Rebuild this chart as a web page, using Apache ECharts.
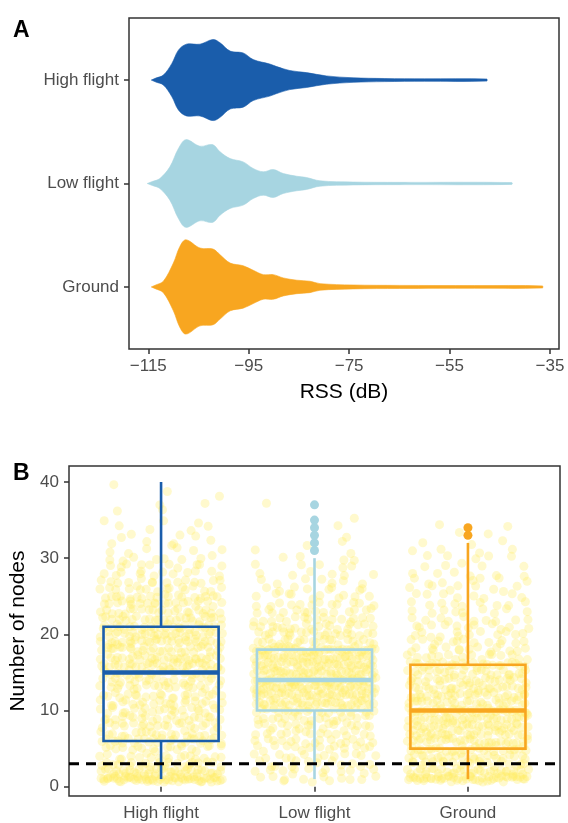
<!DOCTYPE html>
<html><head><meta charset="utf-8">
<script src="https://cdn.jsdelivr.net/npm/echarts@6/dist/echarts.min.js"></script>
<style>html,body{margin:0;padding:0;background:#fff}#c{width:568px;height:823px}</style>
</head><body><div id="c"></div>
<script>
// ---------- shared ----------
const groups = ['High flight', 'Low flight', 'Ground'];
const groupColors = ['#1A5DAB', '#A7D5E1', '#F8A620'];

// ---------- Panel A: violin outlines (RSS dB, half-width in category units) ----------
const rssHigh   = [-114.4,-113.5,-112.0,-110.3,-109.0,-107.4,-104.7,-102.1,-100.7,-98.7,-96.1,-94.1,-90.8,-89.4,-86.8,-83.5,-79.5,-74.2,-68.0,-60.0,-47.6];
const widthHigh = [0,0.019,0.048,0.161,0.289,0.347,0.347,0.392,0.360,0.280,0.262,0.198,0.155,0.130,0.092,0.072,0.040,0.022,0.015,0.012,0.010];
const rssLow    = [-115.2,-114.2,-112.7,-110.7,-109.0,-107.5,-104.7,-102.2,-100.7,-98.7,-96.1,-94.1,-92.1,-90.1,-88.1,-85.4,-83.5,-80.8,-74.2,-65.0,-42.6];
const widthLow  = [0,0.019,0.048,0.161,0.338,0.424,0.360,0.376,0.306,0.241,0.209,0.145,0.113,0.135,0.096,0.070,0.058,0.026,0.014,0.011,0.009];
const rssGround   = [-114.4,-113.5,-112.0,-110.0,-108.7,-107.5,-104.7,-102.1,-100.7,-98.7,-96.1,-94.1,-92.1,-90.1,-88.1,-85.4,-82.8,-80.8,-74.2,-65.0,-50.0,-36.5];
const widthGround = [0,0.019,0.055,0.231,0.392,0.456,0.376,0.366,0.311,0.231,0.205,0.161,0.119,0.119,0.087,0.065,0.055,0.032,0.019,0.015,0.013,0.010];
const rssTicks = [-115, -95, -75, -55, -35];

// ---------- Panel B: number of nodes ----------
const nodeValues   = [1,2,3,4,5,6,7,8,9,10,11,12,13,14,15,16,17,18,19,20,21,22,23,24,25,26,27,28,29,30,31,32,33,34,35,36,37,38,39,40];
const countsHigh   = [60,35,20,18,18,24,20,20,20,20,20,20,20,20,26,28,28,28,28,28,26,24,22,20,18,16,14,12,10,8,6,5,4,4,3,2,2,1,1,1];
const countsLow    = [12,12,12,13,14,15,16,17,18,22,35,36,38,42,38,36,36,40,22,20,18,16,14,12,10,8,7,6,5,4,2,2,1,1,1,0,1,0,0,0];
const countsGround = [50,32,20,22,26,28,30,30,30,34,26,26,25,24,24,25,16,14,13,12,11,10,9,9,8,8,7,6,5,5,4,3,2,2,0,0,0,0,0,0];
// [min whisker, Q1, median, Q3, max whisker]
const boxHigh   = [1, 6, 15, 21, 40];
const boxLow    = [1, 10, 14, 18, 30];
const boxGround = [1, 5, 10, 16, 32];
const outliersHigh = [];
const outliersLow = [31, 32, 33, 34, 35, 37];
const outliersGround = [33, 34];
const nodeTicks = [0, 10, 20, 30, 40];
const threshold = 3;

// ---------- build ----------
const FONT = "'Liberation Sans', Arial, Helvetica, sans-serif";
const violins = [
  {rss: rssHigh, w: widthHigh, y: 3, color: groupColors[0]},
  {rss: rssLow, w: widthLow, y: 2, color: groupColors[1]},
  {rss: rssGround, w: widthGround, y: 1, color: groupColors[2]}
];
const countsAll = [countsHigh, countsLow, countsGround];
const boxesAll = [boxHigh, boxLow, boxGround];
const outAll = [outliersHigh, outliersLow, outliersGround];

// deterministic jitter offsets (visual spread only, like geom_jitter)
function hash(n) {
  n = (n ^ 61) ^ (n >>> 16); n = n + (n << 3); n = n ^ (n >>> 4);
  n = Math.imul(n, 0x27d4eb2d); n = n ^ (n >>> 15);
  return (n >>> 0) / 4294967296;
}
const jitter = [];
countsAll.forEach((counts, g) => {
  let k = g * 100003 + 17;
  counts.forEach((c, vi) => {
    const v = nodeValues[vi];
    for (let i = 0; i < c; i++) {
      k += 7;
      const dx = (((i + hash(k)) / c) * 2 - 1) * 0.4;
      const dy = (hash(k * 31 + 5) * 2 - 1) * 0.4;
      jitter.push([g + 1 + dx, v + dy]);
    }
  });
});

const labelStyle = {color: '#4D4D4D', fontSize: 17, fontFamily: FONT};
const tickStyle = {color: '#333', width: 1.5};
const minus = v => String(v).replace('-', '\u2212');

const option = {
  animation: false,
  backgroundColor: '#fff',
  textStyle: {fontFamily: FONT},
  grid: [
    {left: 129, top: 18, right: 9, bottom: 474, show: true, borderColor: '#333', borderWidth: 1.5, containLabel: false},
    {left: 68, top: 466, right: 8, bottom: 27, show: true, borderColor: '#333', borderWidth: 1.5, containLabel: false}
  ],
  xAxis: [
    {type: 'value', gridIndex: 0, min: -118.84, max: -33.2,
     axisLine: {show: false}, splitLine: {show: false},
     axisTick: {show: true, customValues: rssTicks, length: 5, lineStyle: tickStyle},
     axisLabel: Object.assign({customValues: rssTicks, margin: 9, formatter: minus}, labelStyle),
     name: 'RSS (dB)', nameLocation: 'middle', nameGap: 33,
     nameTextStyle: {fontSize: 21, color: '#000', fontFamily: FONT}},
    {type: 'value', gridIndex: 1, min: 0.4, max: 3.6,
     axisLine: {show: false}, splitLine: {show: false},
     axisTick: {show: true, customValues: [1, 2, 3], length: 5, lineStyle: tickStyle},
     axisLabel: Object.assign({customValues: [1, 2, 3], margin: 9, formatter: v => groups[Math.round(v) - 1]}, labelStyle)}
  ],
  yAxis: [
    {type: 'value', gridIndex: 0, min: 0.4, max: 3.6,
     axisLine: {show: false}, splitLine: {show: false},
     axisTick: {show: true, customValues: [1, 2, 3], length: 5, lineStyle: tickStyle},
     axisLabel: Object.assign({customValues: [1, 2, 3], margin: 10, formatter: v => groups[3 - Math.round(v)]}, labelStyle)},
    {type: 'value', gridIndex: 1, min: -1.22, max: 42.1,
     axisLine: {show: false}, splitLine: {show: false},
     axisTick: {show: true, customValues: nodeTicks, length: 5, lineStyle: tickStyle},
     axisLabel: Object.assign({customValues: nodeTicks, margin: 10}, labelStyle),
     name: 'Number of nodes', nameLocation: 'middle', nameGap: 40,
     nameTextStyle: {fontSize: 21, color: '#000', fontFamily: FONT}}
  ],
  graphic: [
    {type: 'text', left: 13, top: 19, style: {text: 'A', font: 'bold 23px ' + FONT, fill: '#000'}},
    {type: 'text', left: 13, top: 462, style: {text: 'B', font: 'bold 23px ' + FONT, fill: '#000'}}
  ],
  series: [
    {type: 'custom', xAxisIndex: 0, yAxisIndex: 0, data: [0, 1, 2], z: 2,
     renderItem: function (params, api) {
       const vd = violins[params.dataIndex];
       const up = [], down = [];
       for (let i = 0; i < vd.rss.length; i++) {
         up.push(api.coord([vd.rss[i], vd.y + vd.w[i]]));
         down.push(api.coord([vd.rss[i], vd.y - vd.w[i]]));
       }
       const pts = up.concat(down.reverse());
       return {type: 'polygon', shape: {points: pts, smooth: 0.35},
               style: {fill: vd.color, stroke: vd.color, lineWidth: 0.6}};
     }},
    {type: 'scatter', xAxisIndex: 1, yAxisIndex: 1, data: jitter, symbolSize: 9, z: 1,
     itemStyle: {color: 'rgba(255,236,90,0.38)', borderWidth: 0}, silent: true},
    {type: 'custom', xAxisIndex: 1, yAxisIndex: 1, z: 3,
     data: boxesAll.map((b, i) => [i + 1].concat(b)),
     renderItem: function (params, api) {
       const x = api.value(0), lo = api.value(1), q1 = api.value(2), med = api.value(3), q3 = api.value(4), hi = api.value(5);
       const c = groupColors[params.dataIndex];
       const hw = 0.375;
       const pTop = api.coord([x, hi]), pQ3 = api.coord([x, q3]), pQ1 = api.coord([x, q1]), pLo = api.coord([x, lo]);
       const l = api.coord([x - hw, q3]), r = api.coord([x + hw, q1]);
       const ml = api.coord([x - hw, med]), mr = api.coord([x + hw, med]);
       const st = {stroke: c, lineWidth: 2.6, fill: null};
       return {type: 'group', children: [
         {type: 'line', shape: {x1: pTop[0], y1: pTop[1], x2: pQ3[0], y2: pQ3[1]}, style: st},
         {type: 'line', shape: {x1: pQ1[0], y1: pQ1[1], x2: pLo[0], y2: pLo[1]}, style: st},
         {type: 'rect', shape: {x: l[0], y: l[1], width: r[0] - l[0], height: r[1] - l[1]}, style: st},
         {type: 'line', shape: {x1: ml[0], y1: ml[1], x2: mr[0], y2: mr[1]}, style: {stroke: c, lineWidth: 4.5}}
       ]};
     }},
    ...outAll.map((o, i) => ({type: 'scatter', xAxisIndex: 1, yAxisIndex: 1, z: 4, symbolSize: 9,
      data: o.map(v => [i + 1, v]), itemStyle: {color: groupColors[i], opacity: 1}})),
    {type: 'line', xAxisIndex: 1, yAxisIndex: 1, z: 5, symbol: 'none', silent: true,
     data: [[0.4, threshold], [3.6, threshold]],
     lineStyle: {color: '#000', width: 3, type: [10, 7]}}
  ]
};
const chart = echarts.init(document.getElementById('c'), null, {renderer: 'canvas'});
chart.setOption(option);
</script></body></html>
